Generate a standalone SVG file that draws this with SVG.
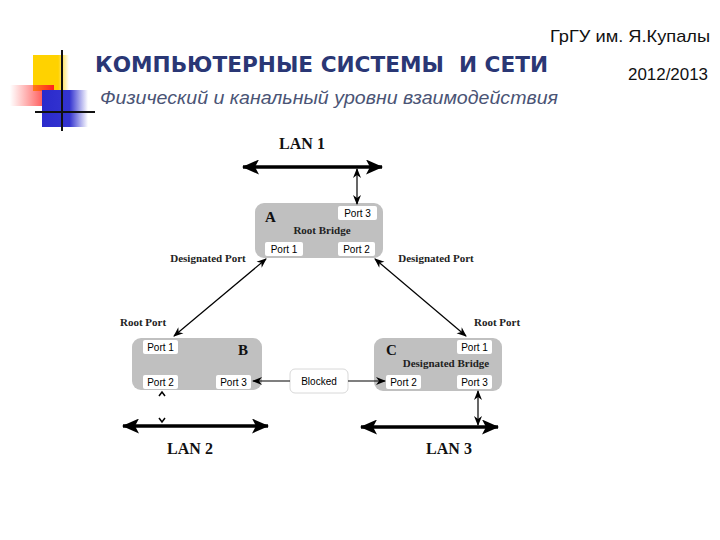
<svg xmlns="http://www.w3.org/2000/svg" width="720" height="540" viewBox="0 0 720 540">
<defs>
<style>
.node{fill:#C0C0C0;}
.port{fill:#FFFFFF;}
.pt{font-family:"Liberation Sans",Arial,sans-serif;font-size:10px;fill:#000;text-anchor:middle;}
.lbl{font-family:"Liberation Serif","Times New Roman",serif;font-size:11px;font-weight:bold;fill:#222;text-anchor:middle;}
.big{font-family:"Liberation Serif","Times New Roman",serif;font-size:16px;font-weight:bold;fill:#111;text-anchor:middle;}
.let{font-family:"Liberation Serif","Times New Roman",serif;font-size:15px;font-weight:bold;fill:#111;}
.thin{stroke:#000;stroke-width:1.2;fill:none;}
.thick{stroke:#000;stroke-width:3.5;fill:none;}
</style>
<marker id="ah" markerUnits="userSpaceOnUse" markerWidth="10" markerHeight="10" viewBox="0 0 10 10" refX="9" refY="5" orient="auto-start-reverse">
<path d="M0,1 L10,5 L0,9 L3,5 Z" fill="#000"/>
</marker>
<marker id="ahb" markerUnits="userSpaceOnUse" markerWidth="17" markerHeight="15" viewBox="0 0 17 15" refX="16" refY="7.5" orient="auto-start-reverse">
<path d="M0,0 L17,7.5 L0,15 L4,7.5 Z" fill="#000"/>
</marker>
<linearGradient id="gy" x1="0" x2="1" y1="0" y2="0">
<stop offset="0" stop-color="#FFD200"/>
<stop offset="0.7" stop-color="#FFD200"/>
<stop offset="1" stop-color="#FFD200" stop-opacity="0"/>
</linearGradient>
<linearGradient id="gr" x1="0" x2="1" y1="0" y2="0">
<stop offset="0" stop-color="#FF3333" stop-opacity="0"/>
<stop offset="1" stop-color="#FF2020"/>
</linearGradient>
<linearGradient id="gb" x1="0" x2="1" y1="0" y2="0">
<stop offset="0" stop-color="#2A2ACC"/>
<stop offset="0.6" stop-color="#3434D0"/>
<stop offset="1" stop-color="#3434D0" stop-opacity="0"/>
</linearGradient>
<linearGradient id="gl" x1="0" x2="1" y1="0" y2="0">
<stop offset="0" stop-color="#888"/>
<stop offset="1" stop-color="#888" stop-opacity="0.1"/>
</linearGradient>
</defs>
<rect width="720" height="540" fill="#FFFFFF"/>

<g id="logo">
<rect x="33" y="55" width="36" height="36" fill="url(#gy)"/>
<rect x="10" y="85" width="44" height="21" fill="url(#gr)"/>
<rect x="42" y="90" width="46" height="37" fill="url(#gb)"/>
<line x1="62" y1="50" x2="62" y2="131" stroke="#111" stroke-width="2"/>
<line x1="35" y1="112" x2="95" y2="112" stroke="#111" stroke-width="2"/>
<line x1="95" y1="112" x2="575" y2="112" stroke="url(#gl)" stroke-width="1.5"/>
</g>

<g id="header">
<text x="710" y="42" font-family="'Liberation Sans',Arial,sans-serif" font-size="17" fill="#111" text-anchor="end" textLength="160" lengthAdjust="spacingAndGlyphs">ГрГУ им. Я.Купалы</text>
<text x="708" y="80" font-family="'Liberation Sans',Arial,sans-serif" font-size="16" fill="#111" text-anchor="end" textLength="80" lengthAdjust="spacingAndGlyphs">2012/2013</text>
<text x="95" y="72" font-family="'DejaVu Sans','Liberation Sans',sans-serif" font-size="22" font-weight="bold" fill="#2A3775" style="white-space:pre" textLength="453" lengthAdjust="spacingAndGlyphs">КОМПЬЮТЕРНЫЕ СИСТЕМЫ  И СЕТИ</text>
<text x="100" y="104" font-family="'Liberation Sans',Arial,sans-serif" font-size="19" font-style="italic" fill="#4A5475" textLength="458" lengthAdjust="spacingAndGlyphs">Физический и канальный уровни взаимодействия</text>
</g>

<g id="lan1"><text class="big" x="302" y="149">LAN 1</text></g>
<g id="lan2"><text class="big" x="190" y="454">LAN 2</text></g>
<g id="lan3"><text class="big" x="449" y="454">LAN 3</text></g>

<g id="labels">
<text class="lbl" x="208" y="262">Designated Port</text>
<text class="lbl" x="436" y="262">Designated Port</text>
<text class="lbl" x="143" y="326">Root Port</text>
<text class="lbl" x="497" y="326">Root Port</text>
</g>

<g id="nodeA">
<rect class="node" x="255" y="203" width="128" height="55" rx="9"/>
<text class="let" x="265" y="222">A</text>
<rect class="port" x="338" y="206" width="39" height="14" rx="2"/>
<text class="pt" x="357.5" y="217">Port 3</text>
<text class="lbl" x="322" y="234" font-weight="normal">Root Bridge</text>
<rect class="port" x="265" y="242" width="38" height="14" rx="2"/>
<text class="pt" x="284" y="253">Port 1</text>
<rect class="port" x="338" y="242" width="37" height="14" rx="2"/>
<text class="pt" x="356.5" y="253">Port 2</text>
</g>

<g id="nodeB">
<rect class="node" x="132" y="338" width="130" height="52" rx="9"/>
<rect class="port" x="143" y="340" width="35" height="14" rx="2"/>
<text class="pt" x="160.5" y="351">Port 1</text>
<text class="let" x="238" y="355">B</text>
<rect class="port" x="143" y="375" width="35" height="14" rx="2"/>
<text class="pt" x="160.5" y="386">Port 2</text>
<rect class="port" x="216" y="375" width="35" height="14" rx="2"/>
<text class="pt" x="233.5" y="386">Port 3</text>
</g>

<g id="blocked">
<rect x="290" y="369" width="58" height="24" rx="5" fill="#FFFFFF" stroke="#D8D8D8" stroke-width="1"/>
<text class="pt" x="319" y="385">Blocked</text>
</g>

<g id="nodeC">
<rect class="node" x="374" y="338" width="128" height="53" rx="9"/>
<text class="let" x="386" y="355">C</text>
<rect class="port" x="457" y="340" width="35" height="14" rx="2"/>
<text class="pt" x="474.5" y="351">Port 1</text>
<text class="lbl" x="446" y="367">Designated Bridge</text>
<rect class="port" x="386" y="375" width="35" height="14" rx="2"/>
<text class="pt" x="403.5" y="386">Port 2</text>
<rect class="port" x="457" y="375" width="35" height="14" rx="2"/>
<text class="pt" x="474.5" y="386">Port 3</text>
</g>

<g id="connectors">
<line class="thick" x1="243" y1="167" x2="382" y2="167" marker-start="url(#ahb)" marker-end="url(#ahb)"/>
<line class="thin" x1="357" y1="169" x2="357" y2="204" marker-start="url(#ah)" marker-end="url(#ah)"/>
<line class="thin" x1="266" y1="259" x2="174" y2="336" marker-start="url(#ah)" marker-end="url(#ah)"/>
<line class="thin" x1="375" y1="259" x2="466" y2="336" marker-start="url(#ah)" marker-end="url(#ah)"/>
<line class="thin" x1="290" y1="381" x2="253" y2="381" marker-end="url(#ah)"/>
<line class="thin" x1="348" y1="381" x2="385" y2="381" marker-end="url(#ah)"/>
<line class="thin" x1="478" y1="391" x2="478" y2="425" marker-start="url(#ah)" marker-end="url(#ah)"/>
<line class="thick" x1="123" y1="426" x2="268" y2="426" marker-start="url(#ahb)" marker-end="url(#ahb)"/>
<line class="thick" x1="361" y1="427" x2="498" y2="427" marker-start="url(#ahb)" marker-end="url(#ahb)"/>
<polyline points="159,396 162,392 165,396" stroke="#000" stroke-width="1.5" fill="none"/>
<polyline points="159,418 162,422 165,418" stroke="#000" stroke-width="1.5" fill="none"/>
</g>
</svg>
